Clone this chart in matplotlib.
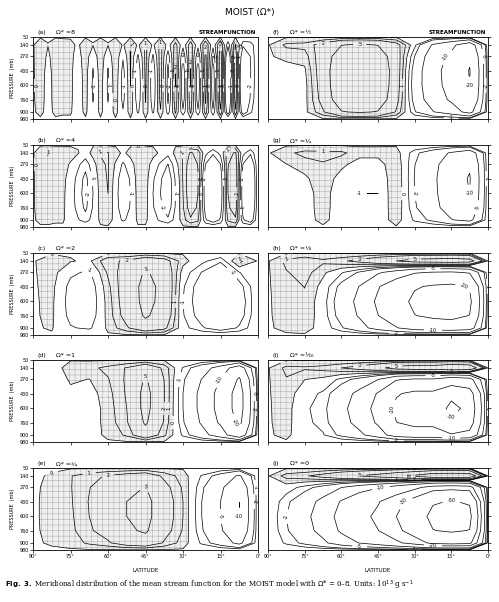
import numpy as np
import matplotlib

matplotlib.use("Agg")
import matplotlib.pyplot as plt

plt.rcParams["hatch.color"] = "#a0a0a0"
plt.rcParams["hatch.linewidth"] = 0.3

pressure = [50, 140, 270, 430, 600, 760, 900, 980]
lat_ticks = [90, 75, 60, 45, 30, 15, 0]
lat_labels = ["90°", "75°", "60°", "45°", "30°", "15°", "0°"]
levels = [-50, -30, -20, -10, -5, -2, -1, 0, 1, 2, 5, 10]

# vertical structures of the deep and upper-level modes
deep_shape = [0, 0.55, 0.85, 1, 1, 0.9, 0.6, 0]
top_shape = [0, 1, 0.5, 0.15, 0, 0, 0, 0]

# panel amplitudes, listed from 90° to 0°
a_deep = [0, 0.5, -0.3, 0.5, 0.3, 0.3, -0.5, 0.5, -1.2, 0.6, -1.2, 0.8, -1.5, 1, -2, 1.2,
          -2, 1.5, -2.5, 2, -3, 2, -3, 2.5, -3, 3, -5, 3, -5, -2, 0]
a_top = [0, 0.5, 0.3, 0.5, 0.3, 0.2, 0.2, 0.5, 0.8, 0.5, 0.8, 0.5, 0.8, 0.5, 1, 0.5,
         1, 0.5, 1, 0.3, 1, 0.5, 1, 0.5, 1, 0.5, 1, 0.5, 1, -0.5, 0]
b_deep = [0, 0.5, 0.5, 0.3, 0.3, -0.5, -1.5, -2.5, -1, 0.5, 1, -0.5, -2, -1, 0.5, 0.5,
          -1, -2, -3, -1, 1, 3, 2, -3, -5, -3, 2, 3, -3, -5, 0]
b_top = [0, 0.5, 0.8, 0.5, 0.5, 0.8, 1, 1, 1, 0.8, 0.5, 0.8, 1, 1, 0.5, 0.5,
         1, 1, 1, 1, 0.5, 0.5, 0.5, 1, 1, 1, 0.5, 0.5, 1, 1, 0]
c_deep = [0, 0.3, -1.5, -2, 0.5, 3, 6, 4, -1, -3, -5, -3, 0]
c_top = [0, 0.5, 1, 1, 1.5, 0.5, 0.5, 0.5, 1, 1, 1, 3, 0]
d_deep = [0, -0.5, -0.3, -0.5, 0.5, 2, 6, 2, -2, -6, -12, -25, 0]
d_top = [0, -0.5, 1, 1, 1, 1, 0.5, 0.5, 0, 0, 0, 0, 0]
e_deep = [0, 0.3, 0.8, 2, 3, 5, 6, 3, 1, -2, -5, -10, 0]
e_top = [0, 0, 0.5, 0.5, 0.5, 0, 0, 0, 0, 0, 0, 0, 0]
f_deep = [0, -0.5, -0.3, 3, 8, 9, 8, 3, -3, -8, -12, -20, 0]
f_top = [0, 1.5, 1.5, 1, 0.5, 0.5, 0.5, 1, 1, -1, -2, -3, 0]
g_deep = [0, -0.5, -0.3, 0.5, -0.5, -1, -1, 1, -2, -4, -8, -10, 0]
g_top = [0, 1, 1.5, 1, 1.5, 1, 1, 0, -0.5, -1, -1, -2, 0]
h_deep = [0, 0.5, 0.8, -0.5, -3, -6, -11, -16, -22, -24, -25, -22, 0]
h_top = [0, 1, 1.5, 1.5, 3.4, 5.8, 9.8, 13.8, 18.6, 20, 21, 18.6, 0]
i_deep = [0, 0.5, -0.8, -1.5, -4, -7, -12, -22, -25, -25, -32, -28, 0]
i_top = [0, 1, 1.6, 2.2, 4.2, 6.6, 10.6, 18.6, 21, 21, 26.6, 23.4, 0]
j_deep = [0, -2, -4, -7, -12, -17, -22, -30, -40, -55, -58, -55, 0]
j_top = [0, 2.5, 4, 6.5, 10.5, 14.5, 18.5, 25, 33, 45, 47, 45, 0]

panels = [
    ("(a)", "Ω* =8", a_deep, a_top),
    ("(b)", "Ω* =4", b_deep, b_top),
    ("(c)", "Ω* =2", c_deep, c_top),
    ("(d)", "Ω* =1", d_deep, d_top),
    ("(e)", "Ω* =¾", e_deep, e_top),
    ("(f)", "Ω* =½", f_deep, f_top),
    ("(g)", "Ω* =¼", g_deep, g_top),
    ("(h)", "Ω* =⅛", h_deep, h_top),
    ("(i)", "Ω* =¹⁄₁₆", i_deep, i_top),
    ("(j)", "Ω* =0", j_deep, j_top),
]

# zero line drawn just off the boundary value so the frame itself is not contoured
draw_levels = [0.1 if v == 0 else v for v in levels]
label_text = {d: f"{v:g}" for d, v in zip(draw_levels, levels)}

W, H = 499, 602
fig = plt.figure(figsize=(W / 100, H / 100), dpi=100)
fig.text(0.5, 1 - 12 / H, "MOIST (Ω*)", ha="center", va="center", fontsize=6.5)

row_tops = [37, 145, 253, 360, 468]
cols = [(33, 225), (268, 220)]
for k, (tag, name, deep, top) in enumerate(panels):
    col, row = divmod(k, 5)
    x0, w = cols[col]
    ax = fig.add_axes([x0 / W, 1 - (row_tops[row] + 82) / H, w / W, 82 / H])
    lat = np.linspace(90, 0, len(deep))
    psi = np.outer(deep_shape, deep) + np.outer(top_shape, top)
    ax.contourf(lat, pressure, psi, levels=[0.1, 1e4], colors=["#efefef"], hatches=["+++"])
    cs = ax.contour(lat, pressure, psi, levels=draw_levels, colors="black",
                    linewidths=0.5, negative_linestyles="solid")
    ax.clabel(cs, fontsize=3.5, fmt=lambda v: label_text.get(v, f"{v:g}"), inline=True)
    ax.set_xlim(90, 0)
    ax.set_ylim(980, 50)
    ax.set_yticks(pressure)
    ax.set_xticks(lat_ticks)
    if row == 4:
        ax.set_xticklabels(lat_labels)
        ax.set_xlabel("LATITUDE", fontsize=4, labelpad=6)
    else:
        ax.set_xticklabels([])
    ax.tick_params(labelsize=3.5, length=2, width=0.5, pad=1)
    for s in ax.spines.values():
        s.set_linewidth(0.6)
    if col == 0:
        ax.set_ylabel("PRESSURE  (mb)", fontsize=3.5, labelpad=3)
    else:
        ax.yaxis.tick_right()
        ax.set_yticklabels([])
    ax.text(0.02, 1.02, tag, transform=ax.transAxes, fontsize=4.5, va="bottom")
    ax.text(0.10, 1.02, name, transform=ax.transAxes, fontsize=4.5, va="bottom")
    if row == 0:
        ax.text(0.99, 1.02, "STREAMFUNCTION", transform=ax.transAxes, fontsize=4,
                ha="right", va="bottom", fontweight="bold")

fig.text(0.01, 1 - 585 / H,
         r"$\bf{Fig.\ 3.}$ Meridional distribution of the mean stream function for the MOIST model "
         r"with $\Omega$* = 0–8. Units: 10$^{13}$ g s$^{-1}$",
         ha="left", va="center", fontsize=5, family="DejaVu Serif")
fig.savefig("out.png", dpi=100)
